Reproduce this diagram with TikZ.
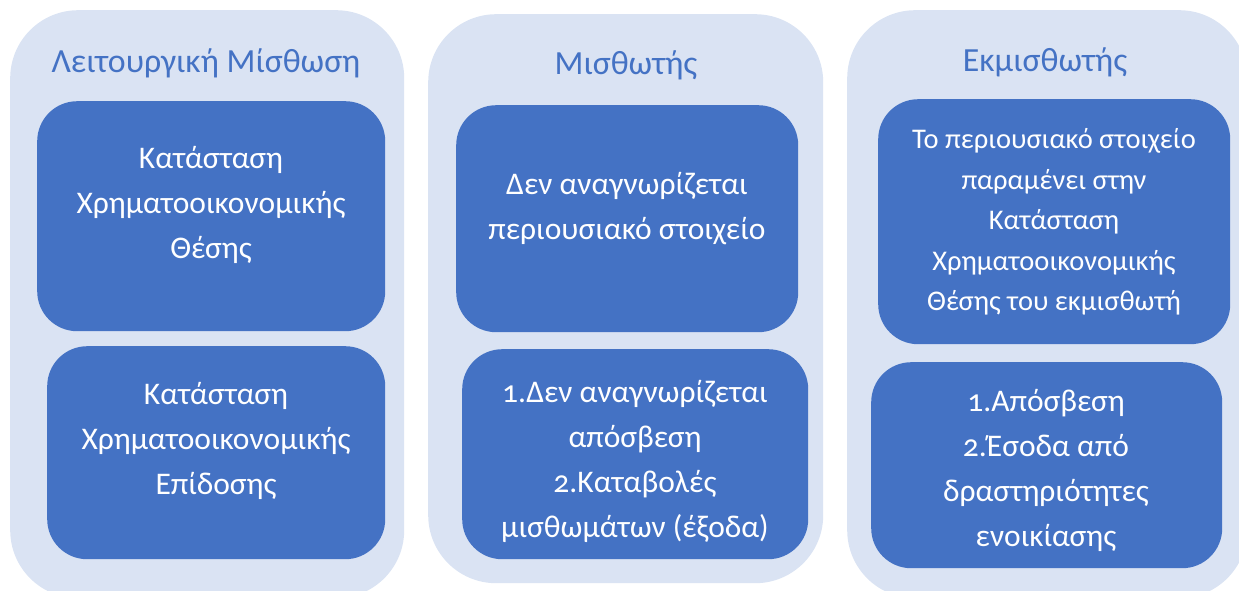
\documentclass[tikz,border=0pt]{standalone}
\usepackage{fontspec}
\setmainfont{Carlito}[Numbers=OldStyle]
\definecolor{panelblue}{HTML}{DAE3F3}
\definecolor{cardblue}{HTML}{4472C4}
\tikzset{
  panel/.style={fill=panelblue, rounded corners=68pt, inner sep=0pt, anchor=north west},
  card/.style={fill=cardblue, rounded corners=40pt, inner sep=0pt, anchor=north west},
  cardtext/.style={text=white, align=center, font=\fontsize{31.5}{45}\selectfont},
  smalltext/.style={cardtext, font=\fontsize{28.5}{40.5}\selectfont},
  paneltitle/.style={text=cardblue, anchor=base, font=\fontsize{33.8}{38}\selectfont},
}

\begin{document}
\begin{tikzpicture}[x=1pt,y=-1pt]
\useasboundingbox (0,0) rectangle (1239,590);
% three columns
\node[panel, minimum width=394pt, minimum height=588pt] (lm) at (10,10) {};
\node[panel, minimum width=395pt, minimum height=569pt] (lessee) at (428,14) {};
\node[panel, minimum width=400pt, minimum height=588pt] (lessor) at (847,10) {};
\node[paneltitle] (lmtitle) at (206,72) {Λειτουργική Μίσθωση};
\node[paneltitle] (lesseetitle) at (626,74) {Μισθωτής};
\node[paneltitle] (lessortitle) at (1045,71) {Εκμισθωτής};
% cards
\node[card, minimum width=348pt, minimum height=230pt] (lmpos) at (37,101) {};
\node[card, minimum width=338pt, minimum height=213pt] (lmperf) at (47,346) {};
\node[card, minimum width=342pt, minimum height=227pt] (lesseepos) at (456,105) {};
\node[card, minimum width=346pt, minimum height=210pt] (lesseeperf) at (462,349) {};
\node[card, minimum width=352pt, minimum height=245pt] (lessorpos) at (878,99) {};
\node[card, minimum width=351pt, minimum height=206pt] (lessorperf) at (871,362) {};
% card texts
\node[cardtext] (lmpostext) at (211,205) {Κατάσταση\\Χρηματοοικονομικής\\Θέσης};
\node[cardtext] (lmperftext) at (216,441) {Κατάσταση\\Χρηματοοικονομικής\\Επίδοσης};
\node[cardtext] (lesseepostext) at (627,209) {Δεν αναγνωρίζεται\\περιουσιακό στοιχείο};
\node[cardtext] (lesseeperftext) at (635,461) {1.Δεν αναγνωρίζεται\\απόσβεση\\2.Καταβολές\\μισθωμάτων (έξοδα)};
\node[smalltext] (lessorpostext) at (1054,222) {Το περιουσιακό στοιχείο\\παραμένει στην\\Κατάσταση\\Χρηματοοικονομικής\\Θέσης του εκμισθωτή};
\node[cardtext] (lessorperftext) at (1046,470) {1.Απόσβεση\\2.Έσοδα από\\δραστηριότητες\\ενοικίασης};
\end{tikzpicture}
\end{document}
